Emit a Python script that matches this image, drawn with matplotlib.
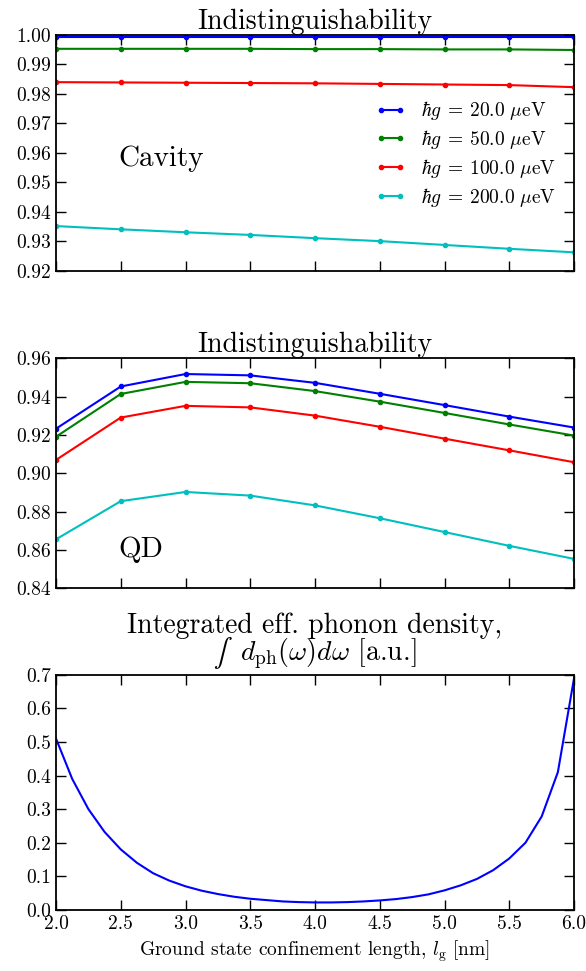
import matplotlib
matplotlib.use("Agg")
import matplotlib.pyplot as plt
import matplotlib.transforms as mtransforms
import numpy as np

plt.rcParams['font.family'] = 'cmr10'
plt.rcParams['mathtext.fontset'] = 'cm'
plt.rcParams['axes.formatter.use_mathtext'] = True
plt.rcParams['axes.unicode_minus'] = False

# confinement lengths for the indistinguishability scans
lg = [2.0, 2.5, 3.0, 3.5, 4.0, 4.5, 5.0, 5.5, 6.0]
couplings = [20.0, 50.0, 100.0, 200.0]
colors = ['b', 'g', 'r', 'c']

cavity_20 = [0.9992, 0.9992, 0.9992, 0.9992, 0.9992, 0.9992, 0.9992, 0.9992, 0.9992]
cavity_50 = [0.9953, 0.9953, 0.9953, 0.9953, 0.9952, 0.9952, 0.9951, 0.9951, 0.9949]
cavity_100 = [0.9840, 0.9839, 0.9838, 0.9837, 0.9836, 0.9834, 0.9832, 0.9830, 0.9823]
cavity_200 = [0.9352, 0.9341, 0.9331, 0.9322, 0.9311, 0.9301, 0.9288, 0.9275, 0.9263]

qd_20 = [0.9233, 0.9453, 0.9518, 0.9511, 0.9472, 0.9415, 0.9356, 0.9296, 0.9239]
qd_50 = [0.9191, 0.9414, 0.9477, 0.9470, 0.9429, 0.9374, 0.9315, 0.9255, 0.9197]
qd_100 = [0.9070, 0.9291, 0.9352, 0.9344, 0.9301, 0.9243, 0.9181, 0.9120, 0.9058]
qd_200 = [0.8656, 0.8855, 0.8903, 0.8884, 0.8833, 0.8766, 0.8694, 0.8622, 0.8554]

# integrated effective phonon density on a finer grid
lg_fine = [2.0, 2.125, 2.25, 2.375, 2.5, 2.625, 2.75, 2.875, 3.0, 3.125, 3.25,
           3.375, 3.5, 3.625, 3.75, 3.875, 4.0, 4.125, 4.25, 4.375, 4.5, 4.625,
           4.75, 4.875, 5.0, 5.125, 5.25, 5.375, 5.5, 5.625, 5.75, 5.875, 6.0]
dph = [0.510, 0.390, 0.300, 0.232, 0.180, 0.140, 0.109, 0.087, 0.070, 0.057,
       0.047, 0.039, 0.033, 0.029, 0.025, 0.023, 0.022, 0.022, 0.023, 0.025,
       0.028, 0.032, 0.038, 0.046, 0.058, 0.073, 0.092, 0.118, 0.153, 0.200,
       0.278, 0.410, 0.690]

cavity = [cavity_20, cavity_50, cavity_100, cavity_200]
qd = [qd_20, qd_50, qd_100, qd_200]

fig = plt.figure(figsize=(5.86, 9.71), dpi=100)
left, width = 0.0956, 0.884
ax1 = fig.add_axes([left, 0.721, width, 0.243])
ax2 = fig.add_axes([left, 0.394, width, 0.237])
ax3 = fig.add_axes([left, 0.063, width, 0.242])

tick_fs = 14
title_fs = 20

for ax in (ax1, ax2, ax3):
    ax.tick_params(direction='in', top=True, right=True, length=7, width=1,
                   labelsize=tick_fs)
    for s in ax.spines.values():
        s.set_linewidth(1.3)
    ax.set_xlim(2.0, 6.0)
    ax.set_xticks(np.arange(2.0, 6.01, 0.5))

for g, c, ys in zip(couplings, colors, cavity):
    ax1.plot(lg, ys, color=c, marker='.', markersize=6, lw=1.5,
             label=r'$\hbar g\:=\:%.1f\ \mu$eV' % g)
ax1.set_ylim(0.92, 1.0)
ax1.set_yticks(np.arange(0.92, 1.001, 0.01))
ax1.yaxis.set_major_formatter(matplotlib.ticker.FormatStrFormatter('%.2f'))
ax1.set_xticklabels([])
ax1.set_title('Indistinguishability', fontsize=title_fs, pad=2.5)
ax1.text(0.12, 0.445, 'Cavity', transform=ax1.transAxes, fontsize=21,
         va='baseline')
ax1.legend(loc='center right', bbox_to_anchor=(1.0, 0.495), frameon=False,
           numpoints=2, fontsize=14, handlelength=1.6, handletextpad=0.8,
           labelspacing=0.3)

for g, c, ys in zip(couplings, colors, qd):
    ax2.plot(lg, ys, color=c, marker='.', markersize=6, lw=1.5)
ax2.set_ylim(0.84, 0.96)
ax2.set_yticks(np.arange(0.84, 0.961, 0.02))
ax2.yaxis.set_major_formatter(matplotlib.ticker.FormatStrFormatter('%.2f'))
ax2.set_xticklabels([])
ax2.set_title('Indistinguishability', fontsize=title_fs, pad=2.5)
ax2.text(0.12, 0.135, 'QD', transform=ax2.transAxes, fontsize=21,
         va='baseline')

ax3.plot(lg_fine, dph, color='b', lw=1.5)
ax3.set_ylim(0.0, 0.7)
ax3.set_yticks(np.arange(0.0, 0.71, 0.1))
ax3.yaxis.set_major_formatter(matplotlib.ticker.FormatStrFormatter('%.1f'))
ax3.xaxis.set_major_formatter(matplotlib.ticker.FormatStrFormatter('%.1f'))
ax3.set_xlabel(r'Ground state confinement length, $l_{\rm g}$ [nm]',
               fontsize=14, labelpad=4)

# two-line title; the integral sign is set separately so it stays text-sized
ax3.text(0.5, 1.178, 'Integrated eff. phonon density,', fontsize=title_fs,
         ha='center', va='baseline', transform=ax3.transAxes)
mix = mtransforms.blended_transform_factory(fig.transFigure, ax3.transAxes)
line2 = ax3.text(0, 1.062, r'$d_{\rm ph}(\omega) d\omega$ [a.u.]',
                 fontsize=title_fs, ha='left', va='baseline', transform=mix)
integ = ax3.text(0, 1.062, r'$\int$', fontsize=title_fs, math_fontfamily='stix',
                 ha='left', va='baseline', transform=mix)
fig.canvas.draw()
rend = fig.canvas.get_renderer()
w2 = line2.get_window_extent(rend).width
wi = integ.get_window_extent(rend).width
gap = 7
fig_w = fig.bbox.width
ax_bb = ax3.get_window_extent(rend)
center = ax_bb.x0 + ax_bb.width / 2
x0 = center - (wi + gap + w2) / 2
integ.set_x(x0 / fig_w)
line2.set_x((x0 + wi + gap) / fig_w)

fig.savefig('out.png', dpi=100)
